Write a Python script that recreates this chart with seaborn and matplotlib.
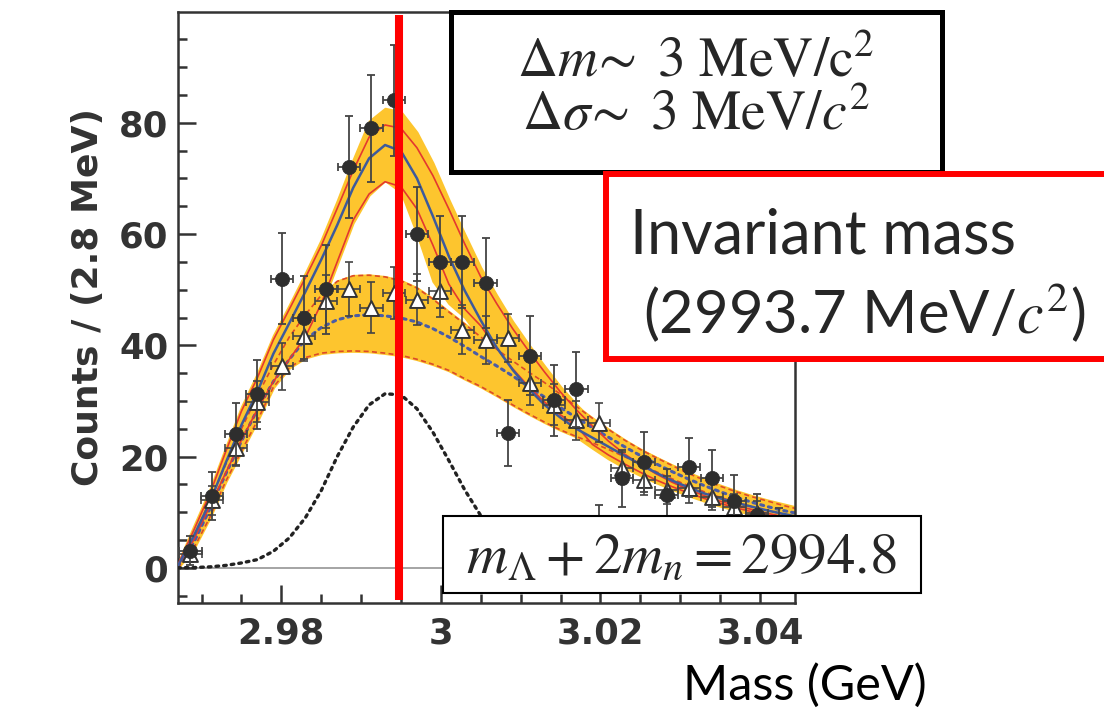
import numpy as np
import pandas as pd
import matplotlib
matplotlib.use("Agg")
import matplotlib.pyplot as plt
import seaborn as sns
from matplotlib.patches import Rectangle
from matplotlib.ticker import MultipleLocator

# ------------------------------------------------------------------ data
# filled circles (counts per 2.8 MeV bin)
circle_mass = [2.9686, 2.9713, 2.9743, 2.9770, 2.9801, 2.9828, 2.9856, 2.9885, 2.9913,
               2.9941, 2.9970, 2.9999, 3.0027, 3.0056, 3.0084, 3.0112, 3.0142, 3.0170,
               3.0198, 3.0227, 3.0255, 3.0283, 3.0311, 3.0340, 3.0368, 3.0396, 3.0424]
circle_counts = [3.1, 13.0, 24.1, 31.2, 52.0, 45.0, 50.1, 72.0, 79.0,
                 84.0, 60.0, 55.0, 55.0, 51.2, 24.2, 38.1, 30.1, 32.1,
                 8.0, 16.1, 19.1, 13.1, 18.1, 16.1, 12.1, 9.5, 7.5]
circle_err = [2.6, 4.3, 5.6, 6.2, 8.1, 7.5, 8.0, 9.2, 9.6,
              10.0, 8.5, 8.2, 8.2, 8.0, 5.9, 7.1, 6.4, 6.7,
              3.4, 5.1, 5.4, 4.7, 5.3, 5.1, 4.6, 3.8, 3.3]

# open triangles
tri_mass = [2.9686, 2.9713, 2.9743, 2.9770, 2.9801, 2.9828, 2.9856, 2.9885, 2.9913,
            2.9941, 2.9970, 2.9999, 3.0027, 3.0056, 3.0084, 3.0112, 3.0142, 3.0170,
            3.0198, 3.0227, 3.0255, 3.0283, 3.0311, 3.0340, 3.0368, 3.0396]
tri_counts = [2.5, 12.2, 21.5, 29.9, 36.2, 41.6, 47.9, 50.1, 46.8,
              49.4, 48.2, 49.8, 42.8, 41.0, 41.3, 33.2, 29.3, 26.5,
              26.1, 18.0, 15.8, 14.0, 14.3, 12.8, 11.0, 9.9]
tri_err = [1.5, 2.6, 3.2, 3.7, 4.2, 4.4, 4.7, 4.8, 4.6,
           4.7, 4.6, 4.7, 4.4, 4.3, 4.3, 3.9, 3.7, 3.5,
           3.5, 2.9, 2.7, 2.5, 2.6, 2.4, 2.2, 2.1]
bin_half_width = 0.0014

# curves
curve_mass = [2.967, 2.969, 2.971, 2.973, 2.975, 2.977, 2.979, 2.981, 2.983, 2.985,
              2.987, 2.989, 2.991, 2.993, 2.995, 2.997, 2.999, 3.001, 3.003, 3.005,
              3.007, 3.009, 3.011, 3.013, 3.015, 3.017, 3.019, 3.021, 3.023, 3.025,
              3.027, 3.029, 3.031, 3.033, 3.035, 3.037, 3.039, 3.041, 3.043, 3.045]
fit_total = [0.3, 5.7, 11.7, 18.8, 25.7, 31.7, 38.5, 44.0, 49.6, 55.4,
             61.6, 68.3, 73.6, 76.0, 74.9, 70.0, 63.2, 56.0, 49.8, 44.5,
             39.6, 35.6, 32.2, 29.3, 27.0, 25.0, 23.4, 21.8, 20.2, 18.6,
             17.1, 15.7, 14.5, 13.4, 12.5, 11.7, 11.0, 10.3, 9.7, 9.1]
fit_red_hi = [0.5, 6.7, 13.2, 20.8, 28.2, 34.2, 41.0, 46.5, 52.1, 57.9,
              64.6, 71.4, 77.4, 79.6, 79.0, 75.5, 70.5, 64.5, 58.2, 52.3,
              47.5, 43.0, 39.0, 35.2, 31.6, 28.4, 25.5, 22.8, 20.5, 18.6,
              16.9, 15.4, 14.1, 13.0, 12.0, 11.2, 10.5, 9.8, 9.2, 8.6]
fit_red_lo = [0.2, 5.0, 11.0, 17.0, 23.0, 28.5, 33.5, 37.5, 41.5, 47.5,
              55.0, 62.5, 67.2, 69.4, 68.5, 64.5, 58.0, 51.0, 46.5, 43.5,
              39.5, 35.8, 32.6, 29.8, 27.5, 25.5, 22.2, 20.3, 18.7, 17.2,
              15.8, 14.6, 13.5, 12.5, 11.6, 10.8, 10.1, 9.5, 8.9, 8.4]
band_total_hi = [0.8, 7.5, 14.0, 21.6, 29.0, 35.0, 41.8, 47.3, 53.0, 59.0,
                 66.0, 73.4, 80.3, 82.6, 82.0, 78.3, 72.8, 66.2, 60.0, 54.0,
                 49.0, 44.3, 40.2, 36.3, 32.6, 29.4, 26.5, 24.5, 22.8, 21.3,
                 19.9, 18.5, 17.2, 16.0, 14.9, 13.9, 13.0, 12.2, 11.5, 10.8]
band_total_lo = [0.0, 4.5, 10.5, 16.5, 22.5, 28.0, 33.0, 37.0, 41.0, 47.0,
                 54.5, 62.0, 67.0, 69.6, 67.5, 60.0, 51.5, 47.5, 45.0, 41.0,
                 38.5, 35.0, 31.8, 29.0, 26.0, 23.5, 21.5, 19.6, 18.0, 16.6,
                 15.3, 14.1, 13.0, 12.0, 11.1, 10.3, 9.6, 9.0, 8.5, 8.0]
bkg_mid = [0.3, 4.5, 10.5, 16.8, 22.8, 28.5, 33.5, 37.5, 41.0, 43.2,
           44.6, 45.3, 45.5, 45.3, 44.9, 44.2, 43.0, 41.5, 39.8, 38.0,
           36.3, 34.5, 32.6, 30.7, 28.8, 27.0, 25.2, 23.5, 21.8, 20.2,
           18.7, 17.3, 16.0, 14.8, 13.7, 12.7, 11.8, 11.0, 10.3, 9.7]
bkg_hi = [0.5, 5.5, 12.0, 18.5, 25.0, 31.0, 36.5, 41.5, 45.5, 49.0,
          51.5, 52.5, 52.6, 52.3, 51.6, 50.3, 48.3, 46.0, 43.8, 41.5,
          39.3, 37.2, 35.2, 33.3, 31.2, 29.0, 26.9, 24.9, 23.0, 21.3,
          19.8, 18.4, 17.0, 15.8, 14.7, 13.7, 12.8, 12.0, 11.2, 10.5]
bkg_lo = [0.0, 3.5, 9.0, 15.5, 21.0, 26.5, 32.5, 36.0, 37.8, 38.6,
          38.9, 39.0, 38.9, 38.6, 38.2, 37.5, 36.6, 35.5, 34.0, 32.6,
          31.0, 29.3, 27.7, 26.2, 24.8, 23.6, 22.5, 21.3, 20.0, 18.7,
          17.3, 16.0, 14.8, 13.7, 12.7, 11.8, 11.0, 10.3, 9.6, 9.0]
signal_gauss = [0.03, 0.07, 0.19, 0.45, 0.9, 1.5, 3.0, 5.4, 9.0, 13.9,
                20.0, 25.3, 29.3, 31.3, 31.1, 28.6, 24.4, 19.3, 14.0, 9.4,
                5.8, 3.3, 1.7, 0.8, 0.35, 0.14, 0.05, 0.02, 0.0, 0.0,
                0.0, 0.0, 0.0, 0.0, 0.0, 0.0, 0.0, 0.0, 0.0, 0.0]

threshold_mass = 2.9948   # m_Lambda + 2 m_n in GeV
x_tick_values = [2.98, 3.00, 3.02, 3.04]
x_tick_labels = ["2.98", "3", "3.02", "3.04"]
y_tick_values = [0, 20, 40, 60, 80]
y_tick_labels = ["0", "20", "40", "60", "80"]

box1_lines = [r"$\Delta m\!\sim\ 3\ \mathrm{MeV/c}^{2}$",
              r"$\Delta \sigma\!\sim\ 3\ \mathrm{MeV}/c^{2}$"]
box2_lines = ["Invariant mass", r"(2993.7 MeV/$c^{2}$)"]
box3_text = r"$m_{\Lambda}+2m_{n}=2994.8$"
x_label = "Mass (GeV)"
y_label = "Counts / (2.8 MeV)"

# ------------------------------------------------------------------ style
sns.set_theme(style="white")
plt.rcParams["font.family"] = ["DejaVu Sans"]

W, H = 1104, 715
fig = plt.figure(figsize=(W / 100, H / 100), dpi=100)
fig.patch.set_facecolor("white")
ax = fig.add_axes([178 / W, 1 - 603 / H, 617 / W, 591 / H])

YEL = "#FDC52E"
RED = "#E4382F"
DRED = "#DD4A28"
BLUE = "#3D5A9C"
DBLUE = "#4A5CA6"
INK = "#2e2e2e"

df = pd.DataFrame({
    "mass": curve_mass, "fit_total": fit_total, "fit_red_hi": fit_red_hi,
    "fit_red_lo": fit_red_lo, "band_total_hi": band_total_hi,
    "band_total_lo": band_total_lo, "bkg_mid": bkg_mid, "bkg_hi": bkg_hi,
    "bkg_lo": bkg_lo, "signal_gauss": signal_gauss,
})

ax.axhline(0, color="#8c8c8c", lw=1.1, zorder=0.5)

# yellow bands
ax.fill_between(df["mass"], df["bkg_lo"], df["bkg_hi"], facecolor=YEL,
                edgecolor=YEL, lw=2.0, zorder=1)
ax.fill_between(df["mass"], df["band_total_lo"], df["band_total_hi"], facecolor=YEL,
                edgecolor=YEL, lw=1.5, zorder=1)

# curves
line_kw = dict(ax=ax, estimator=None, sort=False, legend=False)
sns.lineplot(data=df, x="mass", y="bkg_hi", color=DRED, lw=1.2,
             linestyle=(0, (3, 2)), zorder=2, **line_kw)
sns.lineplot(data=df, x="mass", y="bkg_lo", color=DRED, lw=1.2,
             linestyle=(0, (3, 2)), zorder=2, **line_kw)
sns.lineplot(data=df, x="mass", y="bkg_mid", color=DBLUE, lw=2.2,
             linestyle=(0, (1, 1.6)), dash_capstyle="round", zorder=2, **line_kw)
sns.lineplot(data=df, x="mass", y="fit_red_hi", color=RED, lw=1.2, zorder=3, **line_kw)
sns.lineplot(data=df, x="mass", y="fit_red_lo", color=RED, lw=1.2, zorder=3, **line_kw)
sns.lineplot(data=df, x="mass", y="fit_total", color=BLUE, lw=1.8, zorder=3, **line_kw)
sns.lineplot(data=df, x="mass", y="signal_gauss", color="#222222", lw=2.4,
             linestyle=(0, (0.8, 1.5)), dash_capstyle="round", zorder=3, **line_kw)

# data points with error bars
ax.errorbar(tri_mass, tri_counts, yerr=tri_err, xerr=bin_half_width, fmt="none",
            ecolor="#444444", elinewidth=1.2, capsize=2.8, capthick=1.2, zorder=5)
sns.scatterplot(x=tri_mass, y=tri_counts, ax=ax, marker="^", s=115, color="white",
                edgecolor="#333333", linewidth=1.4, zorder=6, legend=False)
ax.errorbar(circle_mass, circle_counts, yerr=circle_err, xerr=bin_half_width, fmt="none",
            ecolor="#444444", elinewidth=1.3, capsize=2.8, capthick=1.3, zorder=7)
sns.scatterplot(x=circle_mass, y=circle_counts, ax=ax, marker="o", s=105, color=INK,
                edgecolor=INK, linewidth=0.5, zorder=8, legend=False)

# threshold line
ax.axvline(threshold_mass, ymin=0.005, ymax=0.995, color="#FF0000", lw=5.8,
           solid_capstyle="butt", zorder=9)

# axes cosmetics
ax.set_xlim(2.96704, 3.0444)
ax.set_ylim(-6.3, 99.9)
ax.set_xticks(x_tick_values, x_tick_labels)
ax.set_yticks(y_tick_values, y_tick_labels)
ax.xaxis.set_minor_locator(MultipleLocator(0.005))
ax.yaxis.set_minor_locator(MultipleLocator(5))
ax.tick_params(which="both", direction="in", color="#333333", width=1.8,
               bottom=True, left=True, top=False, right=False)
ax.tick_params(which="major", length=13, labelsize=25.5, labelcolor="#333333")
ax.tick_params(which="minor", length=6.5)
ax.tick_params(axis="x", which="major", pad=10)
ax.tick_params(axis="y", which="major", pad=7)
for lbl in ax.get_xticklabels() + ax.get_yticklabels():
    lbl.set_fontweight("bold")
for sp in ax.spines.values():
    sp.set_color("#333333")
    sp.set_linewidth(1.8)

ax.set_ylabel(y_label, fontsize=26, fontweight="bold", color="#333333")
ax.yaxis.set_label_coords(-0.118, 0.518)
ax.set_xlabel(x_label, fontsize=35, family="Lato", color="black", va="baseline")
ax.xaxis.set_label_coords(1.016, -0.1641)


# ------------------------------------------------------------------ overlay boxes
def add_box(x0, y0, x1, y1, ec, lw, z):
    r = Rectangle((x0 / W, 1 - y1 / H), (x1 - x0) / W, (y1 - y0) / H,
                  transform=fig.transFigure, facecolor="white", edgecolor=ec,
                  linewidth=lw, zorder=z, joinstyle="miter")
    fig.add_artist(r)


add_box(451, 11.7, 941.7, 171.7, "black", 3.6, 10)
add_box(606, 174, 1140, 359, "#FF0000", 4.3, 11)
add_box(443, 515.5, 921, 593, "black", 1.5, 10)

fig.text(696 / W, 1 - 77 / H, box1_lines[0], ha="center", va="baseline",
         fontsize=40, math_fontfamily="stix", zorder=12)
fig.text(696 / W, 1 - 130 / H, box1_lines[1], ha="center", va="baseline",
         fontsize=40, math_fontfamily="stix", zorder=12)
fig.text(630 / W, 1 - 253 / H, box2_lines[0], ha="left", va="baseline",
         fontsize=44, family="Lato", math_fontfamily="stix", zorder=12)
fig.text(643 / W, 1 - 333 / H, box2_lines[1], ha="left", va="baseline",
         fontsize=43, family="Lato", math_fontfamily="stix", zorder=12)
fig.text(681 / W, 1 - 572 / H, box3_text, ha="center", va="baseline",
         fontsize=41, math_fontfamily="stix", zorder=12)

fig.savefig("out.png", dpi=100, facecolor="white")
